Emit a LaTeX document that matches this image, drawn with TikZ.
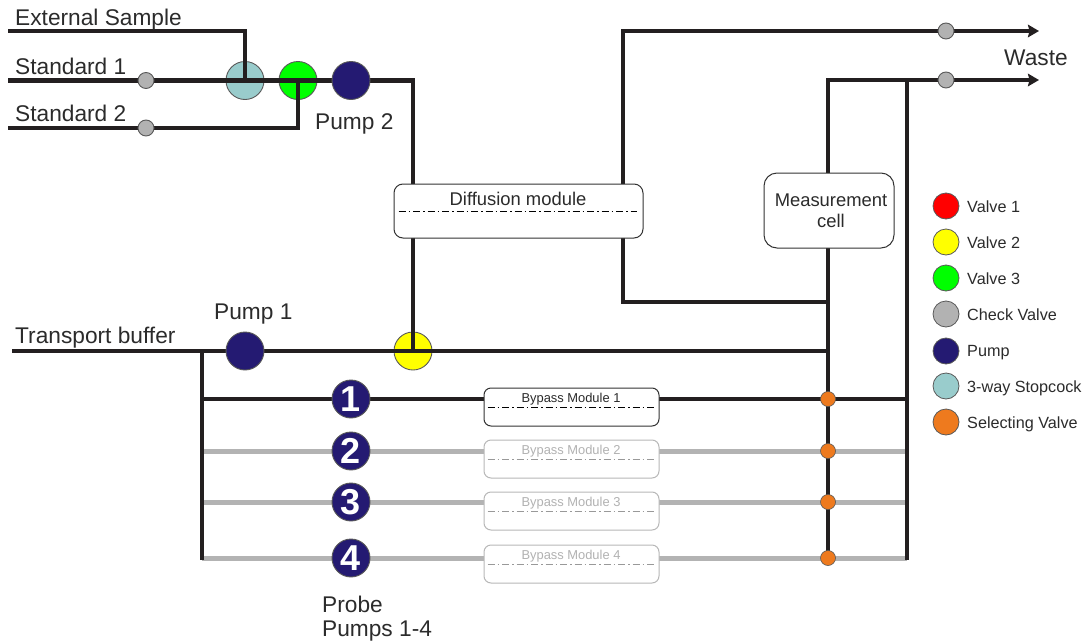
\documentclass[tikz,border=0pt]{standalone}
\usepackage{fontspec}
\setmainfont{Liberation Sans}
\usetikzlibrary{arrows.meta, backgrounds}
\definecolor{pipeblack}{HTML}{231F20}
\definecolor{pipegray}{HTML}{B3B3B3}
\definecolor{pumpblue}{HTML}{241A72}
\definecolor{stopteal}{HTML}{99CCCC}
\definecolor{selorange}{HTML}{EE7A1E}
\definecolor{checkgray}{HTML}{B2B2B2}
\definecolor{textblack}{HTML}{2B2B2B}
\definecolor{valveyellow}{RGB}{255,255,0}
\definecolor{valvegreen}{RGB}{0,255,0}
\definecolor{valvered}{RGB}{255,0,0}
\pgfdeclarelayer{pipes}
\pgfdeclarelayer{under}
\pgfsetlayers{under,pipes,main}
\tikzstyle{pipe} = [line width=4.4pt, draw=pipeblack, line join=miter]
\tikzstyle{graypipe} = [line width=5pt, draw=pipegray]
\tikzstyle{arrow} = [pipe,-{Stealth[length=11pt,width=12.5pt,inset=1.5pt]}]
\tikzstyle{bigvalve} = [circle, draw=black!65, line width=0.9pt, minimum size=38pt, inner sep=0pt]
\tikzstyle{check} = [circle, draw=black!65, fill=checkgray, line width=0.9pt, minimum size=16pt, inner sep=0pt]
\tikzstyle{selvalve} = [circle, draw=black!65, fill=selorange, line width=0.6pt, minimum size=15pt, inner sep=0pt]
\tikzstyle{swatch} = [circle, draw=black!65, line width=0.8pt, minimum size=26pt, inner sep=0pt]
\tikzstyle{probepump} = [bigvalve, fill=pumpblue, text=white, font=\bfseries\fontsize{36}{36}\selectfont]
\tikzstyle{module} = [rectangle, rounded corners=9pt, draw=black!80, line width=1pt, fill=white, inner sep=0pt]
\tikzstyle{grmodule} = [rectangle, rounded corners=7pt, draw=black!28, line width=1pt, fill=white, minimum width=175pt, minimum height=38pt, inner sep=0pt]
\tikzstyle{centerline} = [line width=0.7pt, dash pattern=on 7pt off 3pt on 1.5pt off 3pt]
\tikzstyle{biglabel} = [anchor=base west, inner sep=0pt, text=textblack, font=\fontsize{22.7}{23}\selectfont]
\tikzstyle{midlabel} = [inner sep=0pt, text=textblack, font=\fontsize{18.4}{21}\selectfont]
\tikzstyle{keylabel} = [anchor=base west, inner sep=0pt, text=textblack, font=\fontsize{16.2}{16}\selectfont]
\tikzstyle{bypasslabel} = [inner sep=0pt, font=\fontsize{12.9}{13}\selectfont]

\begin{document}
\begin{tikzpicture}[x=1pt, y=-1pt]
    \useasboundingbox (0,0) rectangle (1088,643);

    % Inlets
    \coordinate (extin) at (8,31);
    \coordinate (std1in) at (8,80.5);
    \coordinate (std2in) at (8,128);
    \coordinate (bufin) at (12,351);
    \coordinate (extbend) at (245,31);
    \coordinate (std2bend) at (298,128);
    \coordinate (pump2bend) at (413,80.5);
    \coordinate (bufsplit) at (202,351);
    \coordinate (probe1in) at (202,399);
    \coordinate (probe2in) at (202,451);
    \coordinate (probe3in) at (202,502);
    \coordinate (probe4in) at (202,558);
    \coordinate (buftee) at (828,351);

    % Outlets
    \coordinate (wastetop) at (1039,31);
    \coordinate (wastelow) at (1039,80);
    \coordinate (difftop) at (623,31);
    \coordinate (diffback) at (623,302);
    \coordinate (celltee) at (828,302);
    \coordinate (celltop) at (828,80);
    \coordinate (cellin) at (828,210);
    \coordinate (drain) at (907,80);
    \coordinate (drain1) at (907,399);
    \coordinate (drain2) at (907,451);
    \coordinate (drain3) at (907,502);
    \coordinate (drain4) at (907,558);
    \coordinate (drainend) at (907,560);

    % Valves the pipes run across
    \begin{pgfonlayer}{under}
    \node (stopcock) at (245,80.5) [bigvalve, fill=stopteal] {};
    \node (valve3) at (298,80.5) [bigvalve, fill=valvegreen] {};
    \node (valve2) at (413,351) [bigvalve, fill=valveyellow] {};
    \end{pgfonlayer}

    % Pumps
    \node (pump2) at (351,80.5) [bigvalve, fill=pumpblue] {};
    \node (pump1) at (245,351) [bigvalve, fill=pumpblue] {};
    \node (probe1) at (351,399) [probepump] {1};
    \node (probe2) at (351,451) [probepump] {2};
    \node (probe3) at (351,502) [probepump] {3};
    \node (probe4) at (351,558) [probepump] {4};

    % Check valves
    \node (check1) at (146,80.5) [check] {};
    \node (check2) at (146,128) [check] {};
    \node (check3) at (946,31) [check] {};
    \node (check4) at (946,80) [check] {};

    % Selecting valves
    \node (sel1) at (828,399) [selvalve] {};
    \node (sel2) at (828,451) [selvalve] {};
    \node (sel3) at (828,502) [selvalve] {};
    \node (sel4) at (828,558) [selvalve] {};

    % Modules
    \node (diff) at (518.5,211) [module, minimum width=249pt, minimum height=54pt] {};
    \node (cell) at (829,210.5) [module, rounded corners=13pt, minimum width=130pt, minimum height=75pt] {};
    \node (bypass1) at (571.5,407) [module, rounded corners=7pt, minimum width=175pt, minimum height=38pt] {};
    \node (bypass2) at (571.5,459) [grmodule] {};
    \node (bypass3) at (571.5,511) [grmodule] {};
    \node (bypass4) at (571.5,564) [grmodule] {};
    \draw [centerline, shorten <=5pt, shorten >=7pt] (diff.west) -- (diff.east);
    \draw [centerline, shorten <=4pt, shorten >=4pt] (bypass1.west) -- (bypass1.east);
    \draw [centerline, draw=black!40, shorten <=4pt, shorten >=4pt] (bypass2.west) -- (bypass2.east);
    \draw [centerline, draw=black!40, shorten <=4pt, shorten >=4pt] (bypass3.west) -- (bypass3.east);
    \draw [centerline, draw=black!40, shorten <=4pt, shorten >=4pt] (bypass4.west) -- (bypass4.east);

    % Pipes
    \begin{pgfonlayer}{pipes}
    \draw [graypipe] (probe2in) -- (probe2.center) -- (sel2.center) -- (drain2);
    \draw [graypipe] (probe3in) -- (probe3.center) -- (sel3.center) -- (drain3);
    \draw [graypipe] (probe4in) -- (probe4.center) -- (sel4.center) -- (drain4);
    \draw [pipe] (extin) -- (extbend) -- (stopcock.center);
    \draw [pipe] (std1in) -- (check1.center) -- (stopcock.center);
    \draw [pipe] (stopcock.center) -- (valve3.center) -- (pump2.center) -- (pump2bend) -- (pump2bend |- diff.center);
    \draw [pipe] (std2in) -- (check2.center) -- (std2bend) -- (valve3.center);
    \draw [pipe] (pump2bend |- diff.center) -- (valve2.center);
    \draw [pipe] (bufin) -- (pump1.center) -- (valve2.center) -- (buftee);
    \draw [pipe] (bufsplit) -- (probe4in |- drainend);
    \draw [pipe] (probe1in) -- (probe1.center) -- (sel1.center) -- (drain1);
    \draw [pipe] (difftop |- diff.center) -- (diffback) -- (celltee);
    \draw [arrow] (difftop |- diff.center) -- (difftop) -- (check3.center) -- (wastetop);
    \draw [arrow] (cellin) -- (celltop) -- (check4.center) -- (wastelow);
    \draw [pipe] (cellin) -- (sel4.center);
    \draw [pipe] (drain) -- (drainend);
    \end{pgfonlayer}

    % Labels
    \node (extlabel) at (15,25) [biglabel] {External Sample};
    \node (std1label) at (15,74) [biglabel] {Standard 1};
    \node (std2label) at (15,121) [biglabel] {Standard 2};
    \node (buflabel) at (15,343) [biglabel] {Transport buffer};
    \node (pump2label) at (315,129) [biglabel] {Pump 2};
    \node (pump1label) at (214,319) [biglabel] {Pump 1};
    \node (wastelabel) at (1004,65) [biglabel] {Waste};
    \node (probelabel) at (322,612) [biglabel] {Probe};
    \node (pumpslabel) at (322,636) [biglabel] {Pumps 1-4};
    \node (difflabel) at (518,199) [midlabel] {Diffusion module};
    \node (celllabel) at (831,211) [midlabel, align=center] {Measurement\\cell};
    \node (by1label) at (571,399) [bypasslabel, text=textblack] {Bypass Module 1};
    \node (by2label) at (571,451) [bypasslabel, text=black!30] {Bypass Module 2};
    \node (by3label) at (571,503) [bypasslabel, text=black!30] {Bypass Module 3};
    \node (by4label) at (571,556) [bypasslabel, text=black!30] {Bypass Module 4};

    % Legend
    \node (key1) at (946,206) [swatch, fill=valvered] {};
    \node (key2) at (946,242) [swatch, fill=valveyellow] {};
    \node (key3) at (946,278) [swatch, fill=valvegreen] {};
    \node (key4) at (946,314) [swatch, fill=checkgray] {};
    \node (key5) at (946,351) [swatch, fill=pumpblue] {};
    \node (key6) at (946,386) [swatch, fill=stopteal] {};
    \node (key7) at (946,422) [swatch, fill=selorange] {};
    \node (key1label) at (967,212.5) [keylabel] {Valve 1};
    \node (key2label) at (967,248.5) [keylabel] {Valve 2};
    \node (key3label) at (967,284.5) [keylabel] {Valve 3};
    \node (key4label) at (967,320.5) [keylabel] {Check Valve};
    \node (key5label) at (967,356.5) [keylabel] {Pump};
    \node (key6label) at (967,392.5) [keylabel] {3-way Stopcock};
    \node (key7label) at (967,428.5) [keylabel] {Selecting Valve};
\end{tikzpicture}
\end{document}
